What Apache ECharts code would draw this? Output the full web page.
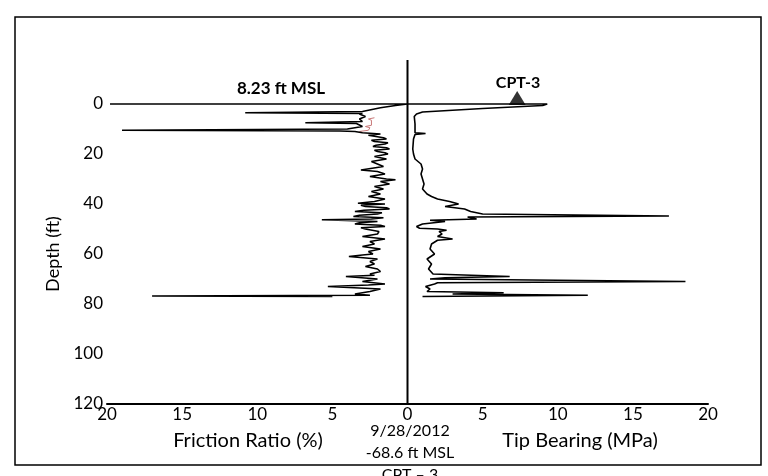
<!DOCTYPE html>
<html>
<head>
<meta charset="utf-8">
<script src="https://cdn.jsdelivr.net/npm/echarts@6/dist/echarts.min.js"></script>
<style>html,body{margin:0;padding:0;background:#fff}#c{width:768px;height:476px}</style>
</head>
<body>
<div id="c"></div>
<script>
// Axis ticks
var depthTicks = [0, 20, 40, 60, 80, 100, 120];
var xTicks = [20, 15, 10, 5, 0, 5, 10, 15, 20];

// Friction ratio (%) trace, plotted to the left of centre
var frDepth = [0, 0, 0.6, 1.5, 2.5, 3, 3.5, 3.8, 4, 5, 6, 7, 7.5, 7.8, 8, 9, 10, 10.5, 10.8, 11, 11.5, 12, 12.5, 13, 13.5, 14, 14.5, 15, 15.5, 16, 16.5, 17, 17.5, 18, 18.5, 19, 19.5, 20, 21, 22, 23, 24, 25, 26.4, 27, 28, 29, 30, 30.3, 31, 32, 33, 34, 35, 36, 37, 38, 39, 39.7, 40, 40.5, 41, 41.5, 42, 42.5, 43, 43.5, 44, 44.5, 45, 45.5, 46, 46.3, 47, 47.5, 48, 48.5, 49, 49.5, 50, 51, 52, 53, 54, 55, 56, 57, 58, 59, 60, 60.4, 61, 62, 63, 64, 65, 66, 67, 68, 68.5, 69, 70, 71, 72, 72.4, 73, 74, 75, 76, 76.5, 76.8, 77];
var frValue = [19.8, 0, 0.8, 1.8, 2.6, 3, 10.8, 3, 3.2, 2.8, 3.2, 3, 6.8, 3.4, 3.5, 3, 4, 19, 4.5, 3.5, 3, 1.8, 2.6, 2.5, 1.6, 1.4, 2.4, 2.2, 1.3, 1.5, 2.1, 2.3, 1.4, 1.2, 2.2, 2, 1.5, 1.3, 2.2, 1.4, 2.4, 2, 1.6, 3.1, 2, 1.5, 2.5, 1.4, 0.8, 1.8, 1.2, 2.2, 1.6, 2.4, 1.8, 2.6, 1.5, 2.2, 3.3, 1.5, 3.1, 2.8, 1.4, 1.2, 2.9, 3.5, 1.7, 2, 3.2, 3.6, 1.6, 2.4, 5.7, 2, 3.2, 3.5, 1.8, 1.5, 3.1, 2.8, 1.9, 2, 3, 1.5, 2.5, 2.2, 3, 1.8, 2.6, 2.3, 3, 3.9, 2, 2.5, 2.2, 2.8, 2, 1.8, 2.5, 2.2, 4.1, 2, 3, 1.5, 2.6, 5.3, 1.8, 2.5, 3.5, 2.5, 17, 5, 1.0];

// Secondary (red) friction trace near the top
var frRedDepth = [5.5, 6, 6.5, 8.5, 9, 9.5, 10.5, 11];
var frRedValue = [2.2, 2.6, 2.4, 2.4, 2.8, 2.5, 2.6, 3.2];

// Tip bearing (MPa) trace, plotted to the right of centre
var tbDepth = [0, 0, 0.6, 1.8, 3.2, 4, 5, 8, 11.5, 11.8, 12.2, 14, 18, 20, 22, 24, 26, 28, 30, 32, 34, 36, 37, 38, 39, 40, 41, 42, 43, 44, 44.8, 45.2, 46, 46.5, 47, 48, 49, 49.7, 50, 50.5, 51, 52, 53, 54, 54.5, 56, 58, 60, 62, 64, 66, 68, 69, 69.5, 70, 71, 71.5, 72, 73, 74, 75, 75.5, 76, 76.5, 77];
var tbValue = [0, 9.3, 9.0, 5, 1.0, 0.6, 0.45, 0.5, 0.5, 1.2, 0.5, 0.4, 0.35, 0.4, 0.5, 0.9, 1.0, 0.9, 1.0, 1.1, 1.0, 1.3, 1.6, 2, 2.8, 3.4, 2.5, 3.8, 4.2, 5, 17.4, 4, 4.6, 1.5, 2.5, 1.0, 0.6, 0.8, 2.0, 2.6, 2.1, 2.3, 2.0, 3.0, 2, 1.6, 1.5, 1.8, 1.3, 1.6, 1.4, 1.7, 6.8, 2.5, 1.5, 18.5, 2, 1.8, 1.2, 1.5, 1.3, 6.4, 3, 12, 1];

// Centre line extent (depth) and CPT marker
var centreDepth = [-17.6, 120];
var cptMarker = [7.3, -2.4];

var frPts = frDepth.map(function (d, i) { return [-frValue[i], d]; });
var frRedPts = frRedDepth.map(function (d, i) { return [-frRedValue[i], d]; });
var tbPts = tbDepth.map(function (d, i) { return [tbValue[i], d]; });
var centrePts = centreDepth.map(function (d) { return [0, d]; });

var chart = echarts.init(document.getElementById('c'));
var font = 'Lato';
chart.setOption({
  animation: false,
  backgroundColor: '#fff',
  grid: { left: 107, right: 60, top: 104, bottom: 72 },
  xAxis: {
    type: 'value', min: -20, max: 20, interval: 5,
    axisLine: { show: true, onZero: false, lineStyle: { color: '#000', width: 2 } },
    axisTick: { show: false },
    splitLine: { show: false },
    axisLabel: { color: '#000', fontSize: 17, fontFamily: font, margin: 2,
      formatter: function (v) { return xTicks[Math.round((v + 20) / 5)]; } }
  },
  yAxis: {
    type: 'value', inverse: true, min: 0, max: 120, interval: 20,
    axisLine: { show: false }, axisTick: { show: false }, splitLine: { show: false },
    axisLabel: { color: '#000', fontSize: 17, fontFamily: font, margin: 4,
      formatter: function (v) { return depthTicks.indexOf(v) >= 0 ? String(v) : ''; } },
    name: 'Depth (ft)', nameLocation: 'middle', nameGap: 45, nameRotate: 90,
    nameTextStyle: { color: '#000', fontSize: 18, fontFamily: font }
  },
  series: [
    { type: 'line', data: centrePts, symbol: 'none', clip: false, lineStyle: { color: '#000', width: 2 }, z: 1 },
    { type: 'line', data: frRedPts, symbol: 'none', lineStyle: { color: '#c87878', width: 1 }, z: 2 },
    { type: 'line', data: frPts, symbol: 'none', clip: false, lineStyle: { color: '#000', width: 1.6 }, z: 3 },
    { type: 'line', data: tbPts, symbol: 'none', clip: false, lineStyle: { color: '#000', width: 1.6 }, z: 3 },
    { type: 'scatter', data: [cptMarker], clip: false, symbol: 'triangle', symbolSize: [17, 14], itemStyle: { color: '#000' }, z: 4 }
  ],
  graphic: [
    { type: 'rect', shape: { x: 15, y: 17, width: 746, height: 448 }, style: { fill: 'none', stroke: '#000', lineWidth: 1.5 }, silent: true },
    { type: 'text', x: 281, y: 89, style: { text: '8.23 ft MSL', font: 'bold 17px Lato', fill: '#000', textAlign: 'center', textVerticalAlign: 'middle' } },
    { type: 'text', x: 518, y: 83, style: { text: 'CPT-3', font: 'bold 16px Lato', fill: '#000', textAlign: 'center', textVerticalAlign: 'middle' } },
    { type: 'text', x: 248, y: 441, style: { text: 'Friction Ratio (%)', font: '20px Lato', fill: '#000', textAlign: 'center', textVerticalAlign: 'middle' } },
    { type: 'text', x: 580, y: 441, style: { text: 'Tip Bearing (MPa)', font: '20px Lato', fill: '#000', textAlign: 'center', textVerticalAlign: 'middle' } },
    { type: 'text', x: 410, y: 431, style: { text: '9/28/2012', font: '16px Lato', fill: '#000', textAlign: 'center', textVerticalAlign: 'middle' } },
    { type: 'text', x: 410, y: 453, style: { text: '-68.6 ft MSL', font: '16px Lato', fill: '#000', textAlign: 'center', textVerticalAlign: 'middle' } },
    { type: 'text', x: 410, y: 467, style: { text: 'CPT – 3', font: '16px Lato', fill: '#000', textAlign: 'center', textVerticalAlign: 'top' } }
  ]
});
</script>
</body>
</html>
